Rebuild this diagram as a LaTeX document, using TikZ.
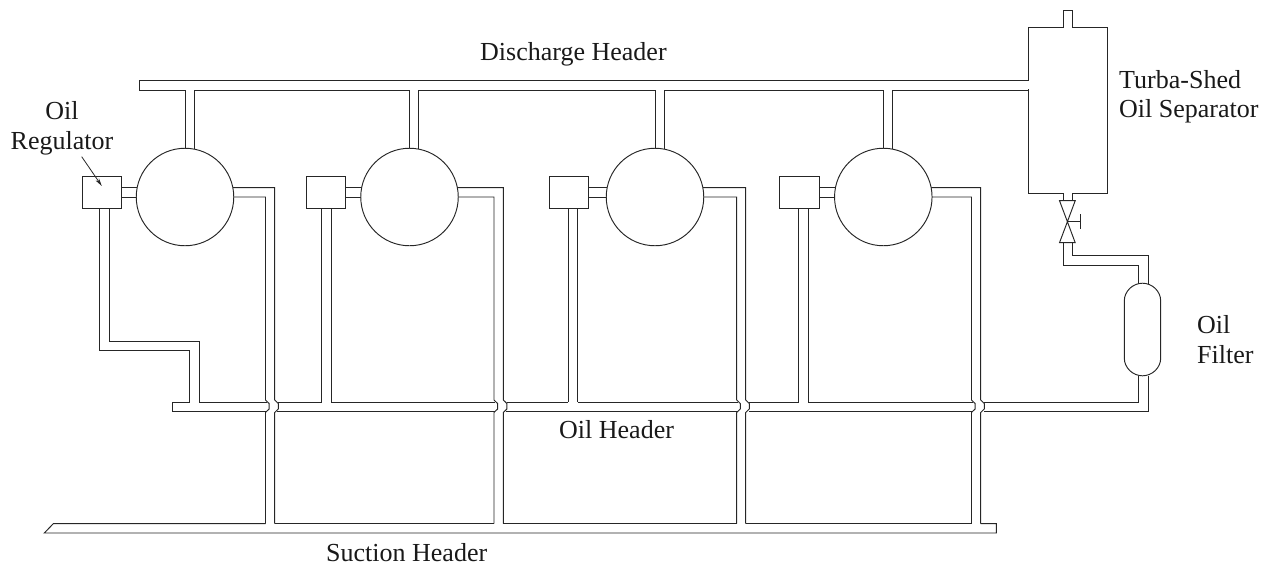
\documentclass[tikz,border=0pt]{standalone}
\usepackage{fontspec}
\setmainfont{Liberation Serif}
\usetikzlibrary{arrows.meta}
\tikzset{
  x=1pt,y=-1pt,
  pipe/.style={draw=black!85,line width=0.95pt,line join=miter},
  machine/.style={circle,draw=black!85,fill=white,line width=0.95pt,minimum size=97.5pt,inner sep=0pt,outer sep=0pt},
  regbox/.style={rectangle,draw=black!85,fill=white,line width=0.95pt,minimum width=39.6pt,minimum height=31.5pt,inner sep=0pt,outer sep=0pt},
  vessel/.style={rectangle,draw=black!85,fill=white,line width=0.95pt,minimum width=79.2pt,minimum height=166pt,inner sep=0pt,outer sep=0pt},
  lbl/.style={inner sep=0pt,font=\fontsize{26}{29.5}\selectfont,text=black!90},
  lblL/.style={lbl,align=left,anchor=west},
  lblC/.style={lbl,align=center},
}
\begin{document}
\begin{tikzpicture}
\useasboundingbox (0,0) rectangle (1270,565);
% machine pipework: centre x, box left x, stem x offsets, outlet x, bulge
\foreach \i/\cx/\bx/\ox/\oy in {1/185/82/265.5/274.7,2/409.5/306.3/494/503.3,3/655/549.3/736.7/745.7,4/883.3/779.7/971.5/980.7}{
  \pgfmathsetmacro{\dx}{\cx+9}
  % discharge drop
  \draw[pipe] (\cx,90) -- (\cx,197);
  \draw[pipe] (\dx,90) -- (\dx,197);
  % suction riser with jump over the oil header
  \draw[pipe] (\cx,197) -- (\ox,197) -- (\ox,400) -- ++(3.6,3.5) -- ++(0,5.5) -- ++(-3.6,3.5) -- (\ox,523.7);
  \draw[pipe] (\cx,187.7) -- (\oy,187.7) -- (\oy,400) -- ++(3.6,3.5) -- ++(0,5.5) -- ++(-3.6,3.5) -- (\oy,523.7);
  % regulator to machine
  \draw[pipe] (\bx,187.7) -- (\cx,187.7);
  \draw[pipe] (\bx,197) -- (\cx,197);
  \node[machine] (c\i) at (\cx,197) {};
  \node[regbox,anchor=north west] (r\i) at (\bx,176.7) {};
}
% stems from regulators to the oil header
\draw[pipe] (r1.south -| 99.3,0) -- (99.3,350) -- (189.7,350) -- (189.7,402);
\draw[pipe] (r1.south -| 109,0) -- (109,341) -- (199,341) -- (199,402);
\draw[pipe] (r2.south -| 321.9,0) -- (321.9,402);
\draw[pipe] (r2.south -| 331.3,0) -- (331.3,402);
\draw[pipe] (r3.south -| 568,0) -- (568,402);
\draw[pipe] (r3.south -| 577.7,0) -- (577.7,402);
\draw[pipe] (r4.south -| 798.7,0) -- (798.7,402);
\draw[pipe] (r4.south -| 808.3,0) -- (808.3,402);
% discharge header
\draw[pipe] (1028.5,80.5) -- (139.5,80.5) -- (139.5,90) -- (185,90);
\foreach \a/\b in {194/409.5,418.5/655,664/883.3,892.3/1028.5}{\draw[pipe] (\a,90) -- (\b,90);}
% oil header
\draw[pipe] (189.7,402) -- (172,402) -- (172,411.3) -- (266,411.3);
\draw[pipe] (199,402) -- (266.5,402);
\foreach \a/\b in {277.5/321.9,331.3/495,506.5/568,577.7/737.7,749/798.7,808.3/972.5,984/1138.5}{\draw[pipe] (\a,402) -- (\b,402);}
\foreach \a/\b in {277/495,506/737.7,749/972.5}{\draw[pipe] (\a,411.3) -- (\b,411.3);}
\draw[pipe] (984,411.3) -- (1148,411.3) -- (1148,376);
\draw[pipe] (1138.5,402) -- (1138.5,376);
% suction header
\draw[pipe] (265.5,523.7) -- (53.3,523.7) -- (44.3,533) -- (996.3,533) -- (996.3,523.7) -- (980.7,523.7);
\foreach \a/\b in {274.7/494,503.3/736.7,745.7/971.5}{\draw[pipe] (\a,523.7) -- (\b,523.7);}
% separator
\node[vessel,anchor=north west] (sep) at (1028.5,27.3) {};
\draw[pipe] (1063.7,27.3) -- (1063.7,10.7) -- (1072.7,10.7) -- (1072.7,27.3);
\draw[white,line width=1.4pt] (1064.3,27.3) -- (1072.1,27.3);
\draw[white,line width=1.4pt] (1028.5,81.2) -- (1028.5,89.3);
\draw[pipe] (1063.7,193.3) -- (1063.7,200.7);
\draw[pipe] (1072.7,193.3) -- (1072.7,200.7);
\draw[white,line width=1.4pt] (1064.3,193.3) -- (1072.1,193.3);
% valve
\coordinate (vc) at (1067.4,221.7);
\draw[pipe] (vc) -- (1059.5,200.7) -- (1075.2,200.7) -- cycle;
\draw[pipe] (vc) -- (1059.5,242.7) -- (1075.2,242.7) -- cycle;
\draw[pipe] (vc) -- (1080.3,221.7);
\draw[pipe] (1080.3,214) -- (1080.3,229.3);
% valve to filter
\draw[pipe] (1063.7,242.7) -- (1063.7,265) -- (1138.5,265) -- (1138.5,284);
\draw[pipe] (1072.7,242.7) -- (1072.7,255.7) -- (1148,255.7) -- (1148,284);
% oil filter
\draw[pipe,fill=white] (1124.3,301) .. controls (1124.3,291) and (1133,283.2) .. (1142.5,283.2)
  .. controls (1152,283.2) and (1160.7,291) .. (1160.7,301)
  -- (1160.7,358) .. controls (1160.7,368) and (1152,375.8) .. (1142.5,375.8)
  .. controls (1133,375.8) and (1124.3,368) .. (1124.3,358) -- cycle;
% labels
\node[lblL] (dh) at (480,54) {Discharge Header};
\node[lblL] (oh) at (559,430) {Oil Header};
\node[lblL] (sh) at (326,552.5) {Suction Header};
\node[lblC] (orl) at (62,128.5) {Oil\\Regulator};
\node[lblL] (ts) at (1119,96.5) {Turba-Shed\\Oil Separator};
\node[lblL] (of) at (1197,339.5) {Oil\\Filter};
\coordinate (ra) at (81.7,156.7);
\draw[draw=black!85,line width=0.8pt,-{Stealth[length=8pt,width=4pt]}] (ra) -- (r1.center |- 0,186);
\end{tikzpicture}
\end{document}
